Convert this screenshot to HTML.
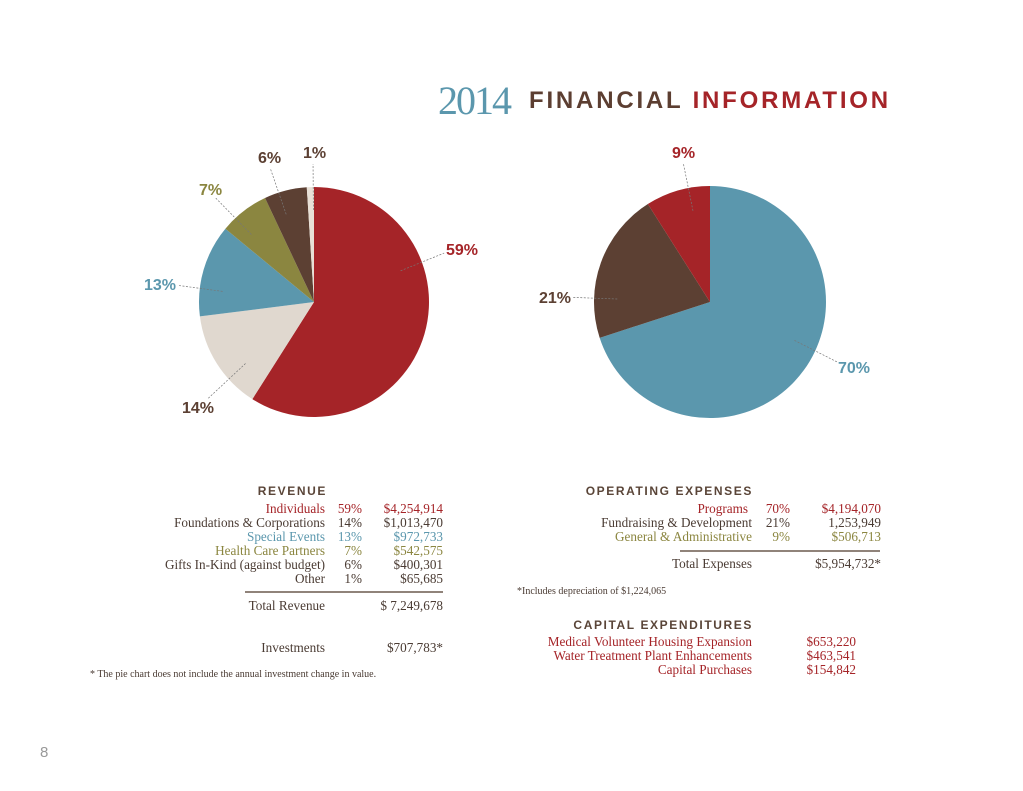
<!DOCTYPE html>
<html><head><meta charset="utf-8"><style>
html,body{margin:0;padding:0;background:#fff;}
svg{display:block;}
.s{font-family:"Liberation Serif",serif;font-size:13.2px;}
.h{font-family:"Liberation Sans",sans-serif;font-weight:bold;font-size:12px;letter-spacing:1.6px;fill:#5a4538;}
.pl{font-family:"Liberation Sans",sans-serif;font-weight:bold;font-size:16px;}
</style></head><body>
<svg id="c" width="1023" height="791" viewBox="0 0 1023 791">
<text x="438" y="114" font-family="Liberation Serif,serif" font-size="40" fill="#5b97ad" letter-spacing="-2">2014</text>
<text x="529" y="108" font-family="Liberation Sans,sans-serif" font-weight="bold" font-size="24" letter-spacing="2.8"><tspan fill="#5c3e31">FINANCIAL </tspan><tspan fill="#a52428">INFORMATION</tspan></text>
<g id="pies"></g>
<g class="s">
<text class="h" x="327" y="495" text-anchor="end">REVENUE</text>
<g text-anchor="end">
<text x="325" y="513" fill="#a52428">Individuals</text><text x="362" y="513" fill="#a52428">59%</text><text x="443" y="513" fill="#a52428">$4,254,914</text>
<text x="325" y="527" fill="#4a3b33">Foundations &amp; Corporations</text><text x="362" y="527" fill="#4a3b33">14%</text><text x="443" y="527" fill="#4a3b33">$1,013,470</text>
<text x="325" y="541" fill="#5b97ad">Special Events</text><text x="362" y="541" fill="#5b97ad">13%</text><text x="443" y="541" fill="#5b97ad">$972,733</text>
<text x="325" y="555" fill="#8b8640">Health Care Partners</text><text x="362" y="555" fill="#8b8640">7%</text><text x="443" y="555" fill="#8b8640">$542,575</text>
<text x="325" y="569" fill="#4a3b33">Gifts In-Kind (against budget)</text><text x="362" y="569" fill="#4a3b33">6%</text><text x="443" y="569" fill="#4a3b33">$400,301</text>
<text x="325" y="583" fill="#4a3b33">Other</text><text x="362" y="583" fill="#4a3b33">1%</text><text x="443" y="583" fill="#4a3b33">$65,685</text>
<text x="325" y="610" fill="#4a3b33">Total Revenue</text><text x="443" y="610" fill="#4a3b33">$ 7,249,678</text>
<text x="325" y="652" fill="#4a3b33">Investments</text><text x="443" y="652" fill="#4a3b33">$707,783*</text>
</g>
<line x1="245" y1="592" x2="443" y2="592" stroke="#6b5a4e" stroke-width="1.5"/>
<text x="90" y="677" font-size="10" fill="#4a3b33">*  The pie chart does not include the annual investment change in value.</text>
</g>
<g class="s">
<text class="h" x="753" y="495" text-anchor="end">OPERATING EXPENSES</text>
<g text-anchor="end">
<text x="748" y="513" fill="#a52428">Programs</text><text x="790" y="513" fill="#a52428">70%</text><text x="881" y="513" fill="#a52428">$4,194,070</text>
<text x="752" y="527" fill="#4a3b33">Fundraising &amp; Development</text><text x="790" y="527" fill="#4a3b33">21%</text><text x="881" y="527" fill="#4a3b33">1,253,949</text>
<text x="752" y="541" fill="#8b8640">General &amp; Administrative</text><text x="790" y="541" fill="#8b8640">9%</text><text x="881" y="541" fill="#8b8640">$506,713</text>
<text x="752" y="568" fill="#4a3b33">Total Expenses</text><text x="881" y="568" fill="#4a3b33">$5,954,732*</text>
</g>
<line x1="680" y1="551" x2="880" y2="551" stroke="#6b5a4e" stroke-width="1.5"/>
<text x="517" y="594" font-size="10" fill="#4a3b33">*Includes depreciation of $1,224,065</text>
<text class="h" x="753" y="629" text-anchor="end" font-size="10.5">CAPITAL EXPENDITURES</text>
<g text-anchor="end" fill="#a52428">
<text x="752" y="646">Medical Volunteer Housing Expansion</text><text x="856" y="646">$653,220</text>
<text x="752" y="660">Water Treatment Plant Enhancements</text><text x="856" y="660">$463,541</text>
<text x="752" y="674">Capital Purchases</text><text x="856" y="674">$154,842</text>
</g>
</g>
<text x="40" y="757" font-family="Liberation Sans,sans-serif" font-size="15" fill="#999">8</text>
</svg>
<script>
const revCategories=["Individuals","Foundations & Corporations","Special Events","Health Care Partners","Gifts In-Kind","Other"];
const revValues=[59,14,13,7,6,1];
const expCategories=["Programs","Fundraising & Development","General & Administrative"];
const expValues=[70,21,9];
const revColors=["#a52428","#e0d8cf","#5b97ad","#8b8640","#5c4033","#e8e0d6"];
const revLabelColors=["#a52428","#5c4033","#5b97ad","#8b8640","#5c4033","#5c4033"];
const expColors=["#5b97ad","#5c4033","#a52428"];
const expLabelColors=["#5b97ad","#5c4033","#a52428"];
const revLabelPos=[[446,255],[182,413],[144,290],[199,195],[258,163],[303,158]];
const expLabelPos=[[838,373],[539,303],[672,158]];
const NS="http://www.w3.org/2000/svg";
const g=document.getElementById('pies');
function pie(cx,cy,r,vals,cols,lcols,lpos,name){
  const tot=vals.reduce((a,b)=>a+b,0);let a0=0;
  vals.forEach((v,i)=>{
    const a1=a0+v/tot*2*Math.PI;
    const p=(a)=>[cx+r*Math.sin(a),cy-r*Math.cos(a)];
    const [x0,y0]=p(a0),[x1,y1]=p(a1);
    const path=document.createElementNS(NS,'path');
    path.setAttribute('d',`M${cx},${cy}L${x0},${y0}A${r},${r} 0 ${a1-a0>Math.PI?1:0} 1 ${x1},${y1}Z`);
    path.setAttribute('fill',cols[i]);
    
    
    g.appendChild(path);
    const lx=lpos[i][0],ly=lpos[i][1];
    const t=document.createElementNS(NS,'text');
    t.setAttribute('x',lx);t.setAttribute('y',ly);t.setAttribute('class','pl');t.setAttribute('fill',lcols[i]);
    t.textContent=v+'%';
    
    
    g.appendChild(t);
    const w=(String(v).length+1)*10, lcx=lx+w/2, lcy=ly-6;
    const dx=lcx-cx, dy=lcy-cy, d=Math.hypot(dx,dy), ux=dx/d, uy=dy/d;
    const ix=cx+ux*r*0.8, iy=cy+uy*r*0.8;
    const ox=cx+ux*(d-Math.max(w/2+4,12)*Math.max(Math.abs(ux),0.55)), oy=cy+uy*(d-12);
    const ln=document.createElementNS(NS,'line');
    ln.setAttribute('x1',ix);ln.setAttribute('y1',iy);ln.setAttribute('x2',ox);ln.setAttribute('y2',oy);
    ln.setAttribute('stroke','#777');ln.setAttribute('stroke-width','0.7');ln.setAttribute('stroke-dasharray','2,1.5');
    
    
    g.appendChild(ln);
    a0=a1;
  });
}
pie(314,302,115,revValues,revColors,revLabelColors,revLabelPos,'revenue');
pie(710,302,116,expValues,expColors,expLabelColors,expLabelPos,'expenses');
</script>
</body></html>
